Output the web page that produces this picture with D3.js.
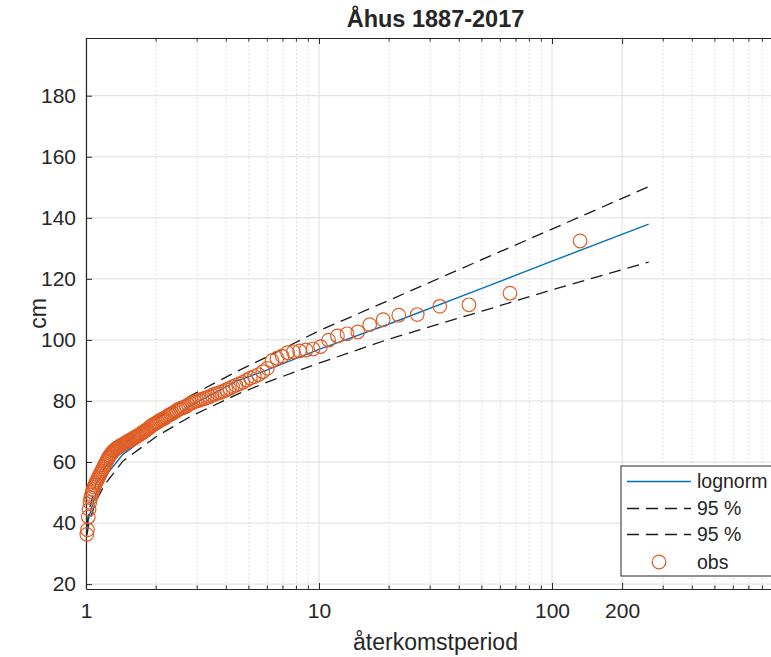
<!DOCTYPE html>
<html>
<head>
<meta charset="utf-8">
<script src="https://d3js.org/d3.v7.min.js"></script>
<style>
  body { margin: 0; background: #fff; }
  text { font-family: "Liberation Sans", Arial, sans-serif; fill: #262626; }
</style>
</head>
<body>
<div id="chart"></div>
<script>
// return periods (years) of the ranked observations, largest first
var obsT = [132, 66, 44, 33, 26.4, 22, 18.857, 16.5, 14.667, 13.2,
  12, 11, 10.154, 9.429, 8.8, 8.25, 7.765, 7.333, 6.947, 6.6,
  6.286, 6, 5.739, 5.5, 5.28, 5.077, 4.889, 4.714, 4.552, 4.4,
  4.258, 4.125, 4, 3.882, 3.771, 3.667, 3.568, 3.474, 3.385, 3.3,
  3.22, 3.143, 3.07, 3, 2.933, 2.87, 2.809, 2.75, 2.694, 2.64,
  2.588, 2.538, 2.491, 2.444, 2.4, 2.357, 2.316, 2.276, 2.237, 2.2,
  2.164, 2.129, 2.095, 2.063, 2.031, 2, 1.97, 1.941, 1.913, 1.886,
  1.859, 1.833, 1.808, 1.784, 1.76, 1.737, 1.714, 1.692, 1.671, 1.65,
  1.63, 1.61, 1.59, 1.571, 1.553, 1.535, 1.517, 1.5, 1.483, 1.467,
  1.451, 1.435, 1.419, 1.404, 1.389, 1.375, 1.361, 1.347, 1.333, 1.32,
  1.307, 1.294, 1.282, 1.269, 1.257, 1.245, 1.234, 1.222, 1.211, 1.2,
  1.189, 1.179, 1.168, 1.158, 1.148, 1.138, 1.128, 1.119, 1.109, 1.1,
  1.091, 1.082, 1.073, 1.065, 1.056, 1.048, 1.039, 1.031, 1.023, 1.015, 1.008];

// observed water levels (cm), same order
var obsCm = [132.4, 115.3, 111.5, 111.0, 108.3, 108.1, 106.6, 105.0, 102.6, 102.0,
  101.3, 99.9, 97.8, 97.0, 96.7, 96.4, 96.1, 95.8, 94.7, 94.0,
  93.2, 90.7, 89.6, 88.6, 88.0, 87.5, 86.8, 86.1, 85.6, 85.1,
  84.7, 84.1, 83.7, 83.2, 82.8, 82.5, 82.2, 81.8, 81.4, 81.1,
  80.8, 80.5, 80.3, 80.0, 79.8, 79.5, 79.2, 78.8, 78.3, 78.0,
  77.7, 77.5, 77.2, 76.8, 76.4, 76.0, 75.7, 75.4, 75.0, 74.6,
  74.3, 74.0, 73.8, 73.5, 73.1, 72.8, 72.5, 72.2, 71.9, 71.5,
  71.1, 70.7, 70.4, 70.1, 69.8, 69.5, 69.2, 68.9, 68.6, 68.4,
  68.2, 67.9, 67.7, 67.5, 67.2, 67.0, 66.8, 66.6, 66.3, 66.1,
  65.9, 65.7, 65.5, 65.3, 65.1, 64.8, 64.6, 64.4, 64.1, 63.8,
  63.5, 63.1, 62.7, 62.2, 61.8, 61.3, 60.7, 60.1, 59.5, 58.9,
  58.3, 57.7, 57.1, 56.5, 56.0, 55.4, 54.8, 54.2, 53.6, 53.0,
  52.4, 51.8, 51.0, 50.2, 49.3, 48.3, 46.8, 44.5, 42.0, 37.8, 36.3];

// fitted lognormal curve and 95 % bounds, read at these return periods
var fitT = [1.008, 1.03, 1.1, 1.2, 1.44, 2, 2.79, 4.4, 6, 10, 20, 50, 100, 260];
var fitCm = [37.5, 42, 49.5, 55, 62.5, 70.5, 78.3, 86.4, 90.2, 96.9, 105.2, 116.9, 125.8, 137.9];
var upperCm = [39, 44, 52.5, 58, 65.5, 74, 81.6, 89.5, 94.5, 103.0, 113, 126.3, 136.3, 150.2];
var lowerCm = [36, 40, 47, 52.5, 60.3, 68.3, 74.8, 82.0, 86.2, 92.4, 100.3, 109.4, 116.4, 125.5];

var xTicks = [1, 10, 100, 200];
var yTicks = [20, 40, 60, 80, 100, 120, 140, 160, 180];
var legendLabels = ["lognorm", "95 %", "95 %", "obs"];

var svgWidth = 771, svgHeight = 657;
var margin = {top: 38, left: 86};
var width = 699, height = 551;

var svg = d3.select("#chart").append("svg")
  .attr("width", svgWidth)
  .attr("height", svgHeight);

var g = svg.append("g")
  .attr("transform", `translate(${margin.left}, ${margin.top})`);

var xScale = d3.scaleLog().domain([1, 1000]).range([0, width]);
var yScale = d3.scaleLinear().domain([18.4, 198.9]).range([height, 0]);

// minor decade positions 2..9, 20..90, 200..900
var minor = [];
[1, 10, 100].forEach(function(d) {
  for (var k = 2; k <= 9; k++) minor.push(d * k);
});
var minorGrid = minor.filter(v => xTicks.indexOf(v) < 0);

// grid
g.selectAll(".xminor").data(minorGrid).enter().append("line")
  .attr("x1", d => xScale(d)).attr("x2", d => xScale(d))
  .attr("y1", 0).attr("y2", height)
  .attr("stroke", "#c4c4c4").attr("stroke-width", 1)
  .attr("stroke-dasharray", "1,3");

g.selectAll(".xmajor").data(xTicks.concat([1000])).enter().append("line")
  .attr("x1", d => xScale(d)).attr("x2", d => xScale(d))
  .attr("y1", 0).attr("y2", height)
  .attr("stroke", "#dedede").attr("stroke-width", 1);

g.selectAll(".ygrid").data(yTicks).enter().append("line")
  .attr("x1", 0).attr("x2", width)
  .attr("y1", d => yScale(d)).attr("y2", d => yScale(d))
  .attr("stroke", "#dedede").attr("stroke-width", 1);

// axes with inward ticks
var xAxis = d3.axisBottom(xScale).tickValues(xTicks).tickFormat(d3.format("d"))
  .tickSizeInner(-6).tickSizeOuter(0).tickPadding(14);
var xAxisTop = d3.axisTop(xScale).tickValues(xTicks).tickFormat("")
  .tickSizeInner(-6).tickSizeOuter(0);
var yAxis = d3.axisLeft(yScale).tickValues(yTicks)
  .tickSizeInner(-6).tickSizeOuter(0).tickPadding(10);

var gx = g.append("g").attr("transform", `translate(0, ${height})`).call(xAxis);
var gxt = g.append("g").call(xAxisTop);
var gy = g.append("g").call(yAxis);

[gx, gxt, gy].forEach(function(a) {
  a.select(".domain").attr("stroke", "#262626").attr("stroke-width", 1.2);
  a.selectAll(".tick line").attr("stroke", "#262626").attr("stroke-width", 1);
  a.selectAll("text").style("font-size", "21px").attr("fill", "#262626");
});

// minor ticks, bottom and top
g.selectAll(".mtb").data(minorGrid).enter().append("line")
  .attr("x1", d => xScale(d)).attr("x2", d => xScale(d))
  .attr("y1", height).attr("y2", height - 3.5)
  .attr("stroke", "#262626");
g.selectAll(".mtt").data(minorGrid).enter().append("line")
  .attr("x1", d => xScale(d)).attr("x2", d => xScale(d))
  .attr("y1", 0).attr("y2", 3.5)
  .attr("stroke", "#262626");

// curves
var line = d3.line().x(d => xScale(d[0])).y(d => yScale(d[1]));

g.append("path")
  .datum(fitT.map((t, i) => [t, fitCm[i]]))
  .attr("d", line).attr("fill", "none")
  .attr("stroke", "#0072BD").attr("stroke-width", 1.4);

[upperCm, lowerCm].forEach(function(arr) {
  g.append("path")
    .datum(fitT.map((t, i) => [t, arr[i]]))
    .attr("d", line).attr("fill", "none")
    .attr("stroke", "#1a1a1a").attr("stroke-width", 1.3)
    .attr("stroke-dasharray", "12,7");
});

g.selectAll(".obs").data(obsT).enter().append("circle")
  .attr("cx", d => xScale(d))
  .attr("cy", (d, i) => yScale(obsCm[i]))
  .attr("r", 6.8)
  .attr("fill", "none")
  .attr("stroke", "#DE5E26")
  .attr("stroke-width", 1.2);

// title and labels
svg.append("text")
  .attr("x", margin.left + width / 2).attr("y", 27)
  .attr("text-anchor", "middle")
  .style("font-size", "23.5px").style("font-weight", "bold")
  .text("Åhus 1887-2017");

svg.append("text")
  .attr("x", margin.left + width / 2).attr("y", 650)
  .attr("text-anchor", "middle")
  .style("font-size", "23px")
  .text("återkomstperiod");

svg.append("text")
  .attr("transform", `translate(46, ${margin.top + height / 2}) rotate(-90)`)
  .attr("text-anchor", "middle")
  .style("font-size", "23px")
  .text("cm");

// legend
var leg = svg.append("g").attr("transform", "translate(621, 466)");
leg.append("rect")
  .attr("width", 200).attr("height", 110)
  .attr("fill", "#fff").attr("stroke", "#262626").attr("stroke-width", 1);

var rowY = [15.5, 42.5, 68.5, 96];
leg.append("line").attr("x1", 6).attr("x2", 70).attr("y1", rowY[0]).attr("y2", rowY[0])
  .attr("stroke", "#0072BD").attr("stroke-width", 1.4);
[1, 2].forEach(function(r) {
  leg.append("line").attr("x1", 6).attr("x2", 70).attr("y1", rowY[r]).attr("y2", rowY[r])
    .attr("stroke", "#1a1a1a").attr("stroke-width", 1.3).attr("stroke-dasharray", "12,7");
});
leg.append("circle").attr("cx", 38).attr("cy", rowY[3]).attr("r", 6.8)
  .attr("fill", "none").attr("stroke", "#DE5E26").attr("stroke-width", 1.2);

leg.selectAll(".lt").data(legendLabels).enter().append("text")
  .attr("x", 76).attr("y", (d, i) => rowY[i])
  .attr("dy", "0.35em")
  .style("font-size", "19.5px")
  .text(d => d);
</script>
</body>
</html>
